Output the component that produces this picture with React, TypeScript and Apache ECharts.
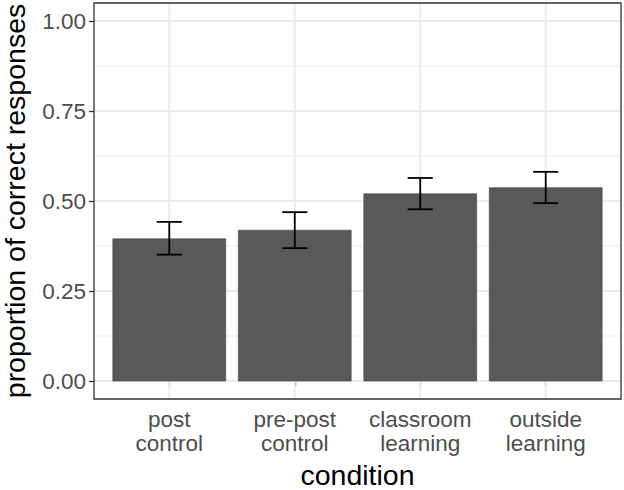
import React, { useEffect, useRef } from "react";
import * as echarts from "echarts";

const categories = ["post\ncontrol", "pre-post\ncontrol", "classroom\nlearning", "outside\nlearning"];
const proportions = [0.395, 0.419, 0.520, 0.537];
const errLower = [0.351, 0.369, 0.477, 0.494];
const errUpper = [0.442, 0.469, 0.564, 0.581];
const yTicks = [0, 0.25, 0.5, 0.75, 1.0];
const yMinorTicks = [0.125, 0.375, 0.625, 0.875];
const xPositions = [1, 2, 3, 4];

const X_MIN = 0.4;
const X_MAX = 4.6;
const Y_MIN = -0.05;
const Y_MAX = 1.05;
const BAR_HALF = 0.45;
const CAP_HALF = 0.1;
const FONT = "'Liberation Sans', Arial, Helvetica, sans-serif";

export default function App() {
  const ref = useRef<HTMLDivElement>(null);
  useEffect(() => {
    if (!ref.current) return;
    const chart = echarts.init(ref.current, undefined, { renderer: "svg" });

    const gridData: number[][] = [
      ...yTicks.map((v) => [0, v]),
      ...yMinorTicks.map((v) => [1, v]),
      ...xPositions.map((v) => [2, v]),
    ];
    const barData = xPositions.map((x, i) => [x, proportions[i], errLower[i], errUpper[i]]);

    chart.setOption({
      animation: false,
      backgroundColor: "#ffffff",
      grid: {
        left: 94,
        right: 3,
        top: 3,
        bottom: 91,
        show: false,
        containLabel: false,
        outerBoundsMode: "none",
      },
      xAxis: {
        type: "value",
        min: X_MIN,
        max: X_MAX,
        name: "condition",
        nameLocation: "middle",
        nameGap: 61,
        nameTextStyle: { fontFamily: FONT, fontSize: 28.5, color: "#000000" },
        axisLine: { show: false },
        splitLine: { show: false },
        axisTick: {
          show: true,
          customValues: xPositions,
          length: 5,
          lineStyle: { color: "#333333", width: 1.3 },
        },
        axisLabel: {
          customValues: xPositions,
          formatter: (v: number) => categories[Math.round(v) - 1] ?? "",
          fontFamily: FONT,
          fontSize: 22.5,
          lineHeight: 24,
          color: "#4D4D4D",
          margin: 8,
        },
      },
      yAxis: {
        type: "value",
        min: Y_MIN,
        max: Y_MAX,
        name: "proportion of correct responses",
        nameLocation: "middle",
        nameGap: 65,
        nameTextStyle: { fontFamily: FONT, fontSize: 28.5, color: "#000000" },
        axisLine: { show: false },
        splitLine: { show: false },
        axisTick: {
          show: true,
          customValues: yTicks,
          length: 5,
          lineStyle: { color: "#333333", width: 1.3 },
        },
        axisLabel: {
          customValues: yTicks,
          formatter: (v: number) => v.toFixed(2),
          fontFamily: FONT,
          fontSize: 22.5,
          color: "#4D4D4D",
          margin: 8,
        },
      },
      series: [
        {
          type: "custom",
          silent: true,
          z: 1,
          data: gridData,
          renderItem: (params: any, api: any) => {
            const kind = api.value(0);
            const v = api.value(1);
            let a, b;
            if (kind === 2) {
              a = api.coord([v, Y_MIN]);
              b = api.coord([v, Y_MAX]);
            } else {
              a = api.coord([X_MIN, v]);
              b = api.coord([X_MAX, v]);
            }
            return {
              type: "line",
              shape: { x1: a[0], y1: a[1], x2: b[0], y2: b[1] },
              style: { stroke: "#EBEBEB", lineWidth: kind === 1 ? 1.1 : 2 },
            };
          },
        },
        {
          type: "custom",
          silent: true,
          z: 2,
          data: barData,
          renderItem: (params: any, api: any) => {
            const x = api.value(0);
            const v = api.value(1);
            const lo = api.value(2);
            const hi = api.value(3);
            const tl = api.coord([x - BAR_HALF, v]);
            const br = api.coord([x + BAR_HALF, 0]);
            const top = api.coord([x, hi]);
            const bot = api.coord([x, lo]);
            const capL = api.coord([x - CAP_HALF, hi]);
            const capR = api.coord([x + CAP_HALF, hi]);
            const errStyle = { stroke: "#000000", lineWidth: 1.8 };
            return {
              type: "group",
              children: [
                {
                  type: "rect",
                  shape: { x: tl[0], y: tl[1], width: br[0] - tl[0], height: br[1] - tl[1] },
                  style: { fill: "#595959", stroke: "#474747", lineWidth: 0.6 },
                },
                {
                  type: "line",
                  shape: { x1: top[0], y1: top[1], x2: bot[0], y2: bot[1] },
                  style: errStyle,
                },
                {
                  type: "line",
                  shape: { x1: capL[0], y1: top[1], x2: capR[0], y2: top[1] },
                  style: errStyle,
                },
                {
                  type: "line",
                  shape: { x1: capL[0], y1: bot[1], x2: capR[0], y2: bot[1] },
                  style: errStyle,
                },
              ],
            };
          },
        },
        {
          type: "custom",
          silent: true,
          z: 3,
          data: [[X_MIN, Y_MAX]],
          renderItem: (params: any, api: any) => {
            const a = api.coord([X_MIN, Y_MAX]);
            const b = api.coord([X_MAX, Y_MIN]);
            return {
              type: "rect",
              shape: { x: a[0], y: a[1], width: b[0] - a[0], height: b[1] - a[1] },
              style: { fill: "none", stroke: "#333333", lineWidth: 1.3 },
            };
          },
        },
      ],
    });
    return () => chart.dispose();
  }, []);

  return (
    <div
      ref={ref}
      style={{ position: "fixed", left: 0, top: 0, width: 624, height: 490 }}
    />
  );
}
